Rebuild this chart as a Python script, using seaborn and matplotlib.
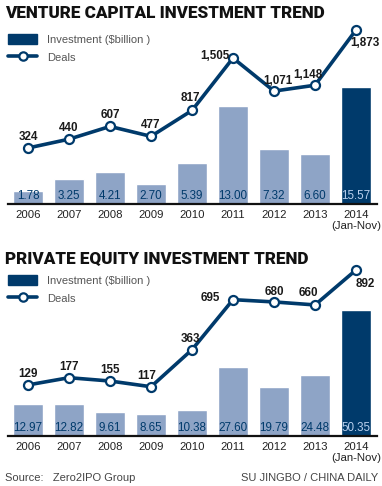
import numpy as np
import pandas as pd
import matplotlib
matplotlib.use("Agg")
import matplotlib.pyplot as plt
from matplotlib.patches import Patch
from matplotlib.lines import Line2D
import seaborn as sns

# ---- data ----
years = ["2006", "2007", "2008", "2009", "2010", "2011", "2012", "2013", "2014\n(Jan-Nov)"]
vc_invest = [1.78, 3.25, 4.21, 2.70, 5.39, 13.00, 7.32, 6.60, 15.57]
vc_deals = [324, 440, 607, 477, 817, 1505, 1071, 1148, 1873]
pe_invest = [12.97, 12.82, 9.61, 8.65, 10.38, 27.60, 19.79, 24.48, 50.35]
pe_deals = [129, 177, 155, 117, 363, 695, 680, 660, 892]

# label offsets (pixels) for the deal numbers
vc_offsets = [(0, 11), (0, 11), (0, 11), (0, 11), (-2, 12), (-18, 2), (4, 10), (-7, 10), (9, -13)]
pe_offsets = [(0, 11), (0, 11), (0, 11), (-4, 11), (-2, 11), (-23, 2), (0, 10), (-7, 12), (9, -14)]

NAVY = "#003a6b"
LIGHT = "#8ea4c6"
W, H = 382, 486

sns.set_theme(style="white")
plt.rcParams["font.family"] = ["Liberation Sans", "DejaVu Sans"]

fig = plt.figure(figsize=(W / 100, H / 100), dpi=100)


def px_axes(left, right, top, bottom):
    return fig.add_axes([left / W, 1 - bottom / H, (right - left) / W, (bottom - top) / H])


def draw_panel(title, title_y, invest, deals, offsets, top, base, bar_ymax, deal_lim, legend_y):
    ax = px_axes(7.5, 376.5, top, base)
    df = pd.DataFrame({"year": years, "invest": invest, "deals": deals})
    colors = [LIGHT] * (len(years) - 1) + [NAVY]
    sns.barplot(data=df, x="year", y="invest", hue="year", palette=colors,
                legend=False, width=0.73, saturation=1, ax=ax)
    ax.set_xlim(-0.5, len(years) - 0.5)
    ax.set_ylim(0, bar_ymax)
    for i, v in enumerate(invest):
        c = NAVY if i < len(years) - 1 else "#b9d0ee"
        ax.annotate(f"{v:.2f}", (i, 0), xytext=(0, 8), textcoords="offset pixels",
                    ha="center", va="center", fontsize=8.4, color=c)
    ax.set_xlabel("")
    ax.set_ylabel("")
    ax.set_yticks([])
    ax.tick_params(axis="x", length=0, pad=4, labelsize=8.2, labelcolor="#222222")
    for s in ["top", "left", "right"]:
        ax.spines[s].set_visible(False)
    ax.spines["bottom"].set_color("#111111")
    ax.spines["bottom"].set_linewidth(1.6)

    ax2 = ax.twinx()
    sns.lineplot(x=np.arange(len(deals)), y=deals, color=NAVY, lw=2.6, marker="o",
                 markersize=6.5, markerfacecolor="white", markeredgecolor=NAVY,
                 markeredgewidth=1.6, ax=ax2)
    ax2.set_ylim(*deal_lim)
    ax2.set_yticks([])
    ax2.axis("off")
    for i, (d, off) in enumerate(zip(deals, offsets)):
        ax2.annotate(f"{d:,}", (i, d), xytext=off, textcoords="offset pixels",
                     ha="center", va="center", fontsize=8.4, fontweight="bold",
                     color="#1a1a1a")

    fig.text(5 / W, 1 - title_y / H, title, ha="left", va="center", fontsize=12.3,
             fontweight="black", color="#111111", family=["Roboto", "DejaVu Sans"])

    handles = [Patch(facecolor=NAVY, edgecolor=NAVY),
               Line2D([0], [0], color=NAVY, lw=2.6, marker="o", markersize=6,
                      markerfacecolor="white", markeredgewidth=1.6)]
    fig.legend(handles, ["Investment ($billion )", "Deals"], loc="upper left",
               bbox_to_anchor=(4 / W, 1 - legend_y / H), frameon=False, fontsize=8,
               handlelength=2.6, handleheight=1.0, labelspacing=0.6, handletextpad=0.9,
               labelcolor="#555555", borderaxespad=0)


draw_panel("VENTURE CAPITAL INVESTMENT TREND", 13, vc_invest, vc_deals, vc_offsets,
           20, 204, 184 / 7.54, (-411, 2004), 30)
draw_panel("PRIVATE EQUITY INVESTMENT TREND", 259, pe_invest, pe_deals, pe_offsets,
           262, 436, 174 / 2.5, (-210, 945), 271)

fig.text(5 / W, 1 - 478 / H, "Source:   Zero2IPO Group", ha="left", va="center",
         fontsize=8, color="#444444")
fig.text(378 / W, 1 - 478 / H, "SU JINGBO / CHINA DAILY", ha="right", va="center",
         fontsize=8, color="#444444")

fig.savefig("out.png", dpi=100)
